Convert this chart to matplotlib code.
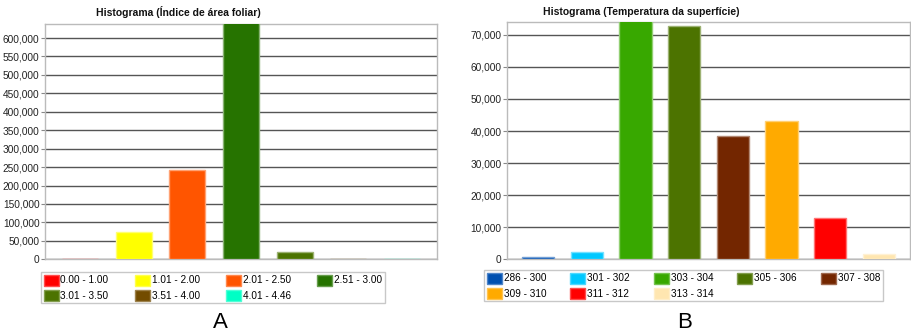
import matplotlib
matplotlib.use("Agg")
import matplotlib.pyplot as plt
from matplotlib.patches import Patch
from matplotlib.ticker import FuncFormatter, MultipleLocator
from matplotlib.colors import to_rgb

plt.rcParams['font.family'] = ['Liberation Sans', 'DejaVu Sans']

# Panel A data
cats_a = ["0.00 - 1.00", "1.01 - 2.00", "2.01 - 2.50", "2.51 - 3.00",
          "3.01 - 3.50", "3.51 - 4.00", "4.01 - 4.46"]
vals_a = [200, 75000, 242500, 660000, 20800, 1500, 1000]
cols_a = ["#FF0000", "#FFFF00", "#FF5500", "#267300", "#4C7300", "#734C00", "#00FFC5"]
title_a = "Histograma (Índice de área foliar)"

# Panel B data
cats_b = ["286 - 300", "301 - 302", "303 - 304", "305 - 306",
          "307 - 308", "309 - 310", "311 - 312", "313 - 314"]
vals_b = [800, 2200, 76000, 72800, 38600, 43100, 13000, 1650]
cols_b = ["#0050B0", "#00C8FF", "#38A800", "#4C7300", "#732600", "#FFAA00", "#FF0000", "#FFE6B0"]
title_b = "Histograma (Temperatura da superfície)"

W, H = 911, 333
fig = plt.figure(figsize=(W / 100, H / 100), dpi=100)


def lighten(c, f=0.45):
    r, g, b = to_rgb(c)
    return (r + (1 - r) * f, g + (1 - g) * f, b + (1 - b) * f)


def fmt(x, pos):
    return f"{int(round(x)):,}"


def panel(rect, cats, vals, cols, ymax, step, width, xpad):
    ax = fig.add_axes(rect)
    x = list(range(len(cats)))
    ax.bar(x, vals, width=width, color=cols,
           edgecolor=[lighten(c) for c in cols], linewidth=1.0, zorder=3)
    ax.set_xlim(-xpad, len(cats) - 1 + xpad)
    ax.set_ylim(0, ymax)
    ax.yaxis.set_major_locator(MultipleLocator(step))
    ax.yaxis.set_major_formatter(FuncFormatter(fmt))
    ax.set_xticks([])
    ax.grid(axis='y', color='#555555', linewidth=1.0, zorder=1)
    for s in ax.spines.values():
        s.set_color('#BBBBBB')
        s.set_linewidth(1.0)
    ax.tick_params(axis='y', length=3, width=0.8, color='#888888',
                   labelsize=7.3, labelcolor='#222222', pad=1)
    return ax


ax_a = panel([45 / W, 1 - 259.3 / H, 392 / W, 235.3 / H],
             cats_a, vals_a, cols_a, 638000, 50000, 0.67, 0.65)
ax_b = panel([507 / W, 1 - 259.3 / H, 403 / W, 237.3 / H],
             cats_b, vals_b, cols_b, 74000, 10000, 0.66, 0.64)

fig.text(178 / W, 1 - 12 / H, title_a, ha='center', va='center',
         fontsize=7.5, fontweight='bold', color='#111111')
fig.text(641 / W, 1 - 12 / H, title_b, ha='center', va='center',
         fontsize=7.5, fontweight='bold', color='#111111')


def legend(cats, cols, ncol, anchor, colspace):
    n = len(cats)
    rows = -(-n // ncol)
    order = [r * ncol + c for c in range(ncol) for r in range(rows) if r * ncol + c < n]
    handles = [Patch(facecolor=cols[i], edgecolor=lighten(cols[i], 0.3), label=cats[i])
               for i in order]
    lg = fig.legend(handles=handles, loc='upper left', bbox_to_anchor=anchor,
                    bbox_transform=fig.transFigure, ncol=ncol, fontsize=7.2,
                    frameon=True, fancybox=False, edgecolor='#BBBBBB',
                    handlelength=1.5, handleheight=1.35, handletextpad=0.2,
                    columnspacing=colspace, labelspacing=0.4, borderpad=0.25,
                    borderaxespad=0)
    lg.get_frame().set_linewidth(1.0)
    return lg


legend(cats_a, cols_a, 4, (41 / W, 1 - 272 / H), 2.6)
legend(cats_b, cols_b, 5, (484 / W, 1 - 270 / H), 2.4)

fig.text(220 / W, 1 - 322 / H, "A", ha='center', va='center', fontsize=16)
fig.text(685 / W, 1 - 322 / H, "B", ha='center', va='center', fontsize=16)

fig.savefig("out.png", dpi=100)
